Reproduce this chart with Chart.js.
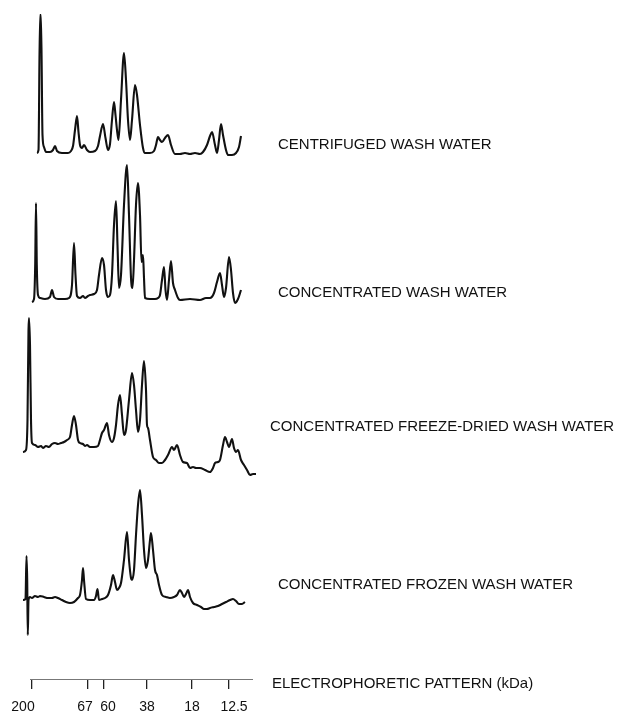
<!DOCTYPE html>
<html><head><meta charset="utf-8">
<script src="https://cdn.jsdelivr.net/npm/chart.js@4.4.1/dist/chart.umd.min.js"></script>
<style>html,body{margin:0;padding:0;background:#fff;}#wrap{position:relative;width:620px;height:715px;}</style>
</head><body><div id="wrap"><canvas id="c" width="620" height="715"></canvas></div>
<script>
// ---- data ----
const sampleNames = ['CENTRIFUGED WASH WATER','CONCENTRATED WASH WATER','CONCENTRATED FREEZE-DRIED WASH WATER','CONCENTRATED FROZEN WASH WATER'];
const axisTitle = 'ELECTROPHORETIC PATTERN (kDa)';
const markerLabels = ['200','67','60','38','18','12.5'];
const markerPos = [32,88,104,147,192,229];

// migration position along the gel
const t1Pos = [37,38.5,40,41,42.5,44,46,50,53,55,57,62,68,71,73,75,77,78.5,80,82,84,87,90,95,98,100,103,105.5,108,110,112,114,115.5,117,118.5,121,124,126,128,130,132,135,137,140,143,145,150,154,156,158,160,162,165,168,171,175,180,185,190,195,200,203,207,210,212,215,217,219,221,223,226,228,232,236,239,241];
const t1Val = [0,3,138,138,18,6,1,1,3,7,2,0,0,2,7,23,37,21,8,5,8,3,1,2,7,17,29,15,3,9,33,51,38,23,13,53,100,73,33,13,33,68,58,28,5,0,0,2,8,16,13,11,15,18,8,-1,-1,0,-1,0,-1,1,8,17,21,8,0,13,29,18,3,-2,-2,0,6,17];

const t2Pos = [32,34,35.2,36,36.8,38,40,45,50,52,54,58,65,69,72,74,75.5,77,80,83,85,88,90,94,97,99,102,104,106,108,110,112,114,116,117.5,119,121,124,127,129,131,132.5,134,136,138,140,141.5,143,144,145,150,155,158,160,162,164,165.5,167,169,171,173,175,178,180,190,200,206,210,214,217,220,222,224,226,229,231,233,235,238,241];
const t2Val = [-3,0,34,96,34,4,1,0,2,9,2,0,0,1,14,56,24,3,1,3,1,3,4,5,9,24,41,34,9,2,4,24,74,98,54,11,24,94,134,84,21,11,39,94,116,84,37,44,21,1,0,0,1,4,19,32,9,-1,19,38,16,9,1,-1,0,-1,1,1,6,17,26,14,2,11,42,29,6,-4,0,9];

const t3Pos = [23,26,27.5,28.5,29,30,31,32,35,38,41,43,46,49,52,55,58,61,64,67,70,72,74,76,78,80,83,85,87,90,94,98,100,102,104,107,109,112,114,116,118,120,122,124,126,129,132,134,136,138,140,142,144,146,147,148,150,153,156,159,162,165,168,172,174,177,180,183,187,190,193,196,200,205,210,213,215,218,220,223,225,227,229,232,234,236,238,241,244,247,250,253,256];
const t3Val = [-4,-2,28,118,130,103,28,5,3,1,2,0,2,1,4,5,4,5,6,8,11,23,32,23,8,5,4,2,3,1,1,2,8,15,18,25,13,6,10,23,43,53,33,13,18,48,75,63,38,16,28,63,87,58,23,20,8,-9,-12,-15,-15,-12,-7,1,-2,3,-7,-14,-15,-20,-19,-20,-20,-22,-24,-20,-15,-14,-12,3,11,6,1,9,0,-4,-2,-12,-17,-22,-27,-26,-26];

const t4Pos = [23,25.5,26.5,27.2,27.8,28.5,30,32,35,38,40,44,48,52,55,58,62,66,70,74,78,80,82,83,84,86,90,94,96,97.5,99,102,105,108,111,113,115,117,119,121,124,127,129,131,132,134,136,138,140,142,144,146,148,150,151,153,155,157,159,162,166,170,174,177,180,182,184,186,188,190,193,197,201,204,207,210,214,218,222,226,230,233,236,239,242,245];
const t4Val = [-2,-1,42,18,-37,-2,1,0,2,1,2,1,0,0,1,0,-2,-4,-5,-4,0,3,18,30,18,-1,-2,-2,2,9,-2,-1,0,3,13,23,16,8,10,15,38,66,38,20,18,28,63,93,108,83,48,30,38,58,65,48,28,23,13,3,1,0,1,3,8,5,1,4,8,1,-5,-7,-9,-11,-11,-10,-9,-8,-6,-4,-2,-1,-3,-6,-6,-4];

// ---- layout (not data) ----
const traceBaseline = [526, 380, 231, 81];
const labelLift = [8, 6, 21, 13];
const labelX = [278, 278, 270, 278];
const tickLabelNudge = [-9, -3, 4, 0, 0, 5];
const axisExtent = [30, 253];
const FONT = '"Liberation Sans", Arial, Helvetica, sans-serif';

const traces = [[t1Pos,t1Val],[t2Pos,t2Val],[t3Pos,t3Val],[t4Pos,t4Val]];
const datasets = traces.map(([p, v], i) => ({
  label: sampleNames[i],
  data: p.map((x, k) => ({x: x, y: v[k] + traceBaseline[i]})),
  borderColor: '#111',
  borderWidth: 2.1,
  pointRadius: 0,
  cubicInterpolationMode: 'monotone',
  fill: false,
  clip: false
}));

const labelPlugin = {
  id: 'labels',
  afterDraw(chart) {
    const ctx = chart.ctx;
    const ys = chart.scales.y, xs = chart.scales.x;
    ctx.save();
    // axis line
    ctx.strokeStyle = '#777';
    ctx.lineWidth = 1;
    ctx.beginPath();
    ctx.moveTo(xs.getPixelForValue(axisExtent[0]), xs.top + 0.5);
    ctx.lineTo(xs.getPixelForValue(axisExtent[1]), xs.top + 0.5);
    ctx.stroke();
    ctx.fillStyle = '#111';
    // tick labels
    ctx.font = '14px ' + FONT;
    ctx.textAlign = 'center';
    ctx.textBaseline = 'middle';
    markerLabels.forEach((t, i) => {
      ctx.fillText(t, xs.getPixelForValue(markerPos[i]) + tickLabelNudge[i], xs.top + 28);
    });
    // trace labels
    ctx.font = '15px ' + FONT;
    ctx.textAlign = 'left';
    sampleNames.forEach((n, i) => {
      ctx.fillText(n, labelX[i], ys.getPixelForValue(traceBaseline[i] + labelLift[i]));
    });
    ctx.fillText(axisTitle, 272, xs.top + 5);
    ctx.restore();
  }
};

new Chart(document.getElementById('c'), {
  type: 'line',
  data: { datasets },
  options: {
    responsive: false,
    animation: false,
    events: [],
    layout: { padding: { left: 20, right: 362, top: 0, bottom: 0 } },
    plugins: { legend: { display: false }, tooltip: { enabled: false } },
    scales: {
      x: {
        type: 'linear', min: 20, max: 258,
        afterFit: s => { s.height = 36; },
        afterBuildTicks: s => { s.ticks = markerPos.map(v => ({ value: v })); },
        ticks: { display: false, autoSkip: false, maxRotation: 0 },
        grid: { drawOnChartArea: false, drawTicks: true, tickLength: 10, color: '#222', lineWidth: 1.3 },
        border: { display: false }
      },
      y: { display: false, min: 0, max: 679 }
    }
  },
  plugins: [labelPlugin]
});
</script>
</body></html>
